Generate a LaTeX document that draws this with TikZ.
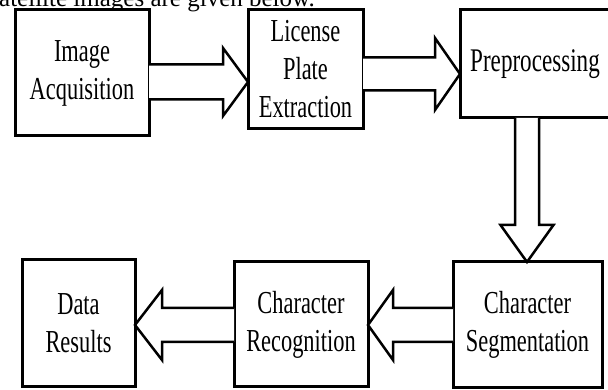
\documentclass[tikz,border=0pt]{standalone}
\usepackage{fontspec}
\setmainfont{Liberation Serif}
\newfontfamily\condfont[FakeStretch=0.7]{Liberation Serif}
\usetikzlibrary{calc}
\tikzset{
  box/.style={draw=black, line width=3pt, fill=white, outer sep=0pt, inner sep=0pt,
    align=center, font=\condfont\fontsize{32}{38}\selectfont},
  blockarrow/.style={draw=black, line width=2.5pt, fill=white, line join=miter},
}
\begin{document}
\begin{tikzpicture}[x=1pt,y=1pt]
\useasboundingbox (0,0) rectangle (608,390);
\clip (0,0) rectangle (608,390);
\fill[white] (0,0) rectangle (608,390);
% partial caption line at top
\node[anchor=base west, inner sep=0pt, font=\fontsize{25}{30}\selectfont] (cap) at (-1,383) {atellite images are given below.};
% boxes
\node[box, minimum width=134pt, minimum height=126pt] (ia) at (82,317) {Image\\Acquisition};
\node[box, minimum width=115pt, minimum height=119pt] (lpe) at (305.5,320.5) {License\\Plate\\Extraction};
\node[box, minimum width=150pt, minimum height=108pt, font=\condfont\fontsize{33}{38}\selectfont] (pp) at (535,326) {Preprocessing};
\node[box, minimum width=113pt, minimum height=127pt] (dr) at (78.5,66.5) {Data\\Results};
\node[box, minimum width=134pt, minimum height=125pt] (cr) at (301,65.5) {Character\\Recognition};
\node[box, minimum width=149pt, minimum height=126pt] (cs) at (527.5,65) {Character\\Segmentation};
% block arrows
\draw[blockarrow] ([yshift=8.5]ia.east) -- (223,325.5) -- (223,342) -- ([yshift=-12.5]lpe.west)
  -- (223,274) -- (223,290.5) -- ([yshift=-26.5]ia.east);
\draw[blockarrow] ([yshift=12]lpe.east) -- (435,332.5) -- (435,352) -- ([yshift=-10]pp.west)
  -- (435,280) -- (435,299.5) -- ([yshift=-21]lpe.east);
\draw[blockarrow] ([xshift=-20]pp.south) -- (515,165) -- (500.5,165) -- ([xshift=-0.5]cs.north)
  -- (553.5,165) -- (539,165) -- ([xshift=4]pp.south);
\draw[blockarrow] ([yshift=17]cs.west) -- (393,82) -- (393,100) -- ([yshift=-0.5]cr.east)
  -- (393,30) -- (393,48) -- ([yshift=-17]cs.west);
\draw[blockarrow] ([yshift=16.5]cr.west) -- (162,82) -- (162,100) -- ([yshift=-1.5]dr.east)
  -- (162,30) -- (162,48) -- ([yshift=-17.5]cr.west);
\end{tikzpicture}
\end{document}
